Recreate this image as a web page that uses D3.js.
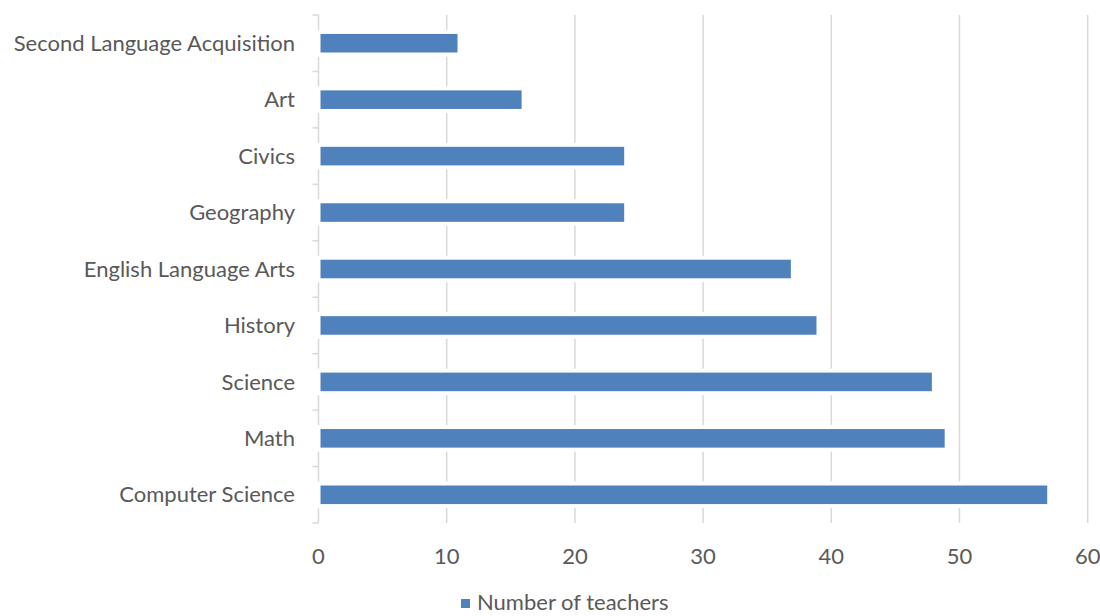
<!DOCTYPE html>
<html>
<head>
<meta charset="utf-8">
<script src="https://cdn.jsdelivr.net/npm/d3@7"></script>
<style>
  html, body { margin: 0; padding: 0; background: #ffffff; }
  svg { display: block; }
  text { font-family: Lato, "Open Sans", sans-serif; fill: #595959; }
</style>
</head>
<body>
<svg id="chart" width="1100" height="616"></svg>
<script>
// Data (bottom to top order as in the source chart)
const categories = ["Computer Science", "Math", "Science", "History", "English Language Arts", "Geography", "Civics", "Art", "Second Language Acquisition"];
const teachers = [57, 49, 48, 39, 37, 24, 24, 16, 11];
const xTicks = [0, 10, 20, 30, 40, 50, 60];
const seriesName = "Number of teachers";

(function () {
const svg = d3.select("#chart");
const mLeft = 318.5, mRight = 1087.7, mTop = 15, mBottom = 523;

const x = d3.scaleLinear().domain([0, 60]).range([mLeft, mRight]);
const topToBottom = categories.slice().reverse();
const y = d3.scaleBand().domain(topToBottom).range([mTop, mBottom]).padding(0);
const step = y.step();
const barH = step * 0.40;

// gridlines
svg.append("g").selectAll("line").data(xTicks.filter(d => d > 0)).join("line")
  .attr("x1", d => x(d)).attr("x2", d => x(d))
  .attr("y1", mTop).attr("y2", mBottom)
  .attr("stroke", "#d9d9d9").attr("stroke-width", 1.5);

// y axis line + boundary ticks
svg.append("line").attr("x1", x(0)).attr("x2", x(0)).attr("y1", mTop).attr("y2", mBottom)
  .attr("stroke", "#d9d9d9").attr("stroke-width", 1.5);
const bounds = topToBottom.map(d => y(d)).concat([mBottom]);
svg.append("g").selectAll("line").data(bounds).join("line")
  .attr("x1", x(0) - 6).attr("x2", x(0))
  .attr("y1", d => d).attr("y2", d => d)
  .attr("stroke", "#d9d9d9").attr("stroke-width", 1.5);

// bars (white outline like the source)
const data = categories.map((c, i) => ({ c, v: teachers[i] }));
svg.append("g").selectAll("rect").data(data).join("rect")
  .attr("x", x(0))
  .attr("y", d => y(d.c) + step / 2 - barH / 2)
  .attr("width", d => x(d.v) - x(0))
  .attr("height", barH)
  .attr("fill", "#4f81bd")
  .attr("stroke", "#ffffff").attr("stroke-width", 4);

// category labels
svg.append("g").selectAll("text").data(topToBottom).join("text")
  .attr("x", 295)
  .attr("y", d => y(d) + step / 2)
  .attr("dy", "0.35em")
  .attr("text-anchor", "end")
  .style("font-size", "22px")
  .text(d => d);

// x tick labels
svg.append("g").selectAll("text").data(xTicks).join("text")
  .attr("x", d => x(d))
  .attr("y", 556)
  .attr("dy", "0.35em")
  .attr("text-anchor", "middle")
  .style("font-size", "22px")
  .text(d => d);

// legend
svg.append("rect").attr("x", 461).attr("y", 599).attr("width", 9).attr("height", 9).attr("fill", "#4f81bd");
svg.append("text").attr("x", 477).attr("y", 610)
  .style("font-size", "22px").text(seriesName);
})();
</script>
</body>
</html>
